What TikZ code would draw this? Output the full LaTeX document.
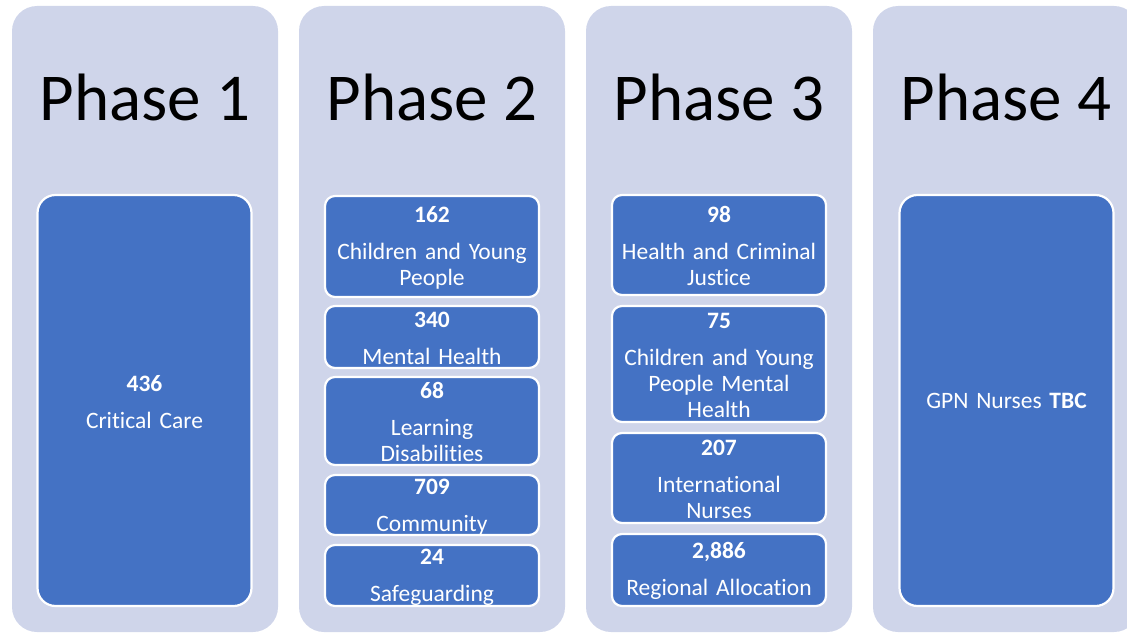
\documentclass[tikz,border=0pt]{standalone}
\usepackage{fontspec}
\setmainfont{Carlito}[Ligatures=NoCommon]
\definecolor{phasebg}{HTML}{CFD5EA}
\definecolor{itemblue}{HTML}{4472C4}
% bold count shown on the first line of each item, with a small top strut
\newcommand{\itemcount}[1]{\rule{0pt}{19pt}\textbf{#1}}

\begin{document}
\begin{tikzpicture}[x=1pt,y=-1pt,
  phasecol/.style={fill=phasebg, rounded corners=25pt},
  heading/.style={anchor=base, inner sep=0pt, font=\fontsize{67}{70}\selectfont},
  item/.style={draw=white, line width=2.2pt, fill=itemblue, text=white,
    align=center, text width=205pt, minimum width=214pt, inner sep=0pt,
    rounded corners=10pt, font=\fontsize{23.5}{26}\selectfont},
  bigitem/.style={item, rounded corners=18pt}]

\useasboundingbox (0,0) rectangle (1127,634);
\clip (0,0) rectangle (1127,634);

% phase columns
\foreach \i/\cx in {1/145, 2/432, 3/719, 4/1006}{
  \path[phasecol] (\cx-133,6) rectangle (\cx+133,632);
  \node[heading] (h\i) at (\cx,120) {Phase \i};
}

% Phase 1
\node[bigitem, minimum height=411pt] (p1a) at (144.5,400.5)
  {\itemcount{436}\\[11pt]Critical Care};

% Phase 2
\node[item, minimum height=101pt] (p2a) at (432,246.5)
  {\itemcount{162}\\[11pt]Children and Young\\People};
\node[item, minimum height=62pt] (p2b) at (432,337)
  {\itemcount{340}\\[11pt]Mental Health};
\node[item, minimum height=88pt] (p2c) at (432,421)
  {\itemcount{68}\\[11pt]Learning\\Disabilities};
\node[item, minimum height=60pt] (p2d) at (432,505)
  {\itemcount{709}\\[11pt]Community};
\node[item, minimum height=61pt] (p2e) at (432,575.5)
  {\itemcount{24}\\[11pt]Safeguarding};

% Phase 3
\node[item, minimum height=100pt] (p3a) at (719,245)
  {\itemcount{98}\\[11pt]Health and Criminal\\Justice};
\node[item, minimum height=116pt] (p3b) at (719,364)
  {\itemcount{75}\\[11pt]Children and Young\\People Mental\\Health};
\node[item, minimum height=90pt] (p3c) at (719,478)
  {\itemcount{207}\\[11pt]International\\Nurses};
\node[item, minimum height=72pt] (p3d) at (719,570)
  {\itemcount{2,886}\\[11pt]Regional Allocation};

% Phase 4
\node[bigitem, minimum height=411pt] (p4a) at (1006.5,400.5)
  {GPN Nurses \textbf{TBC}};
\end{tikzpicture}
\end{document}
